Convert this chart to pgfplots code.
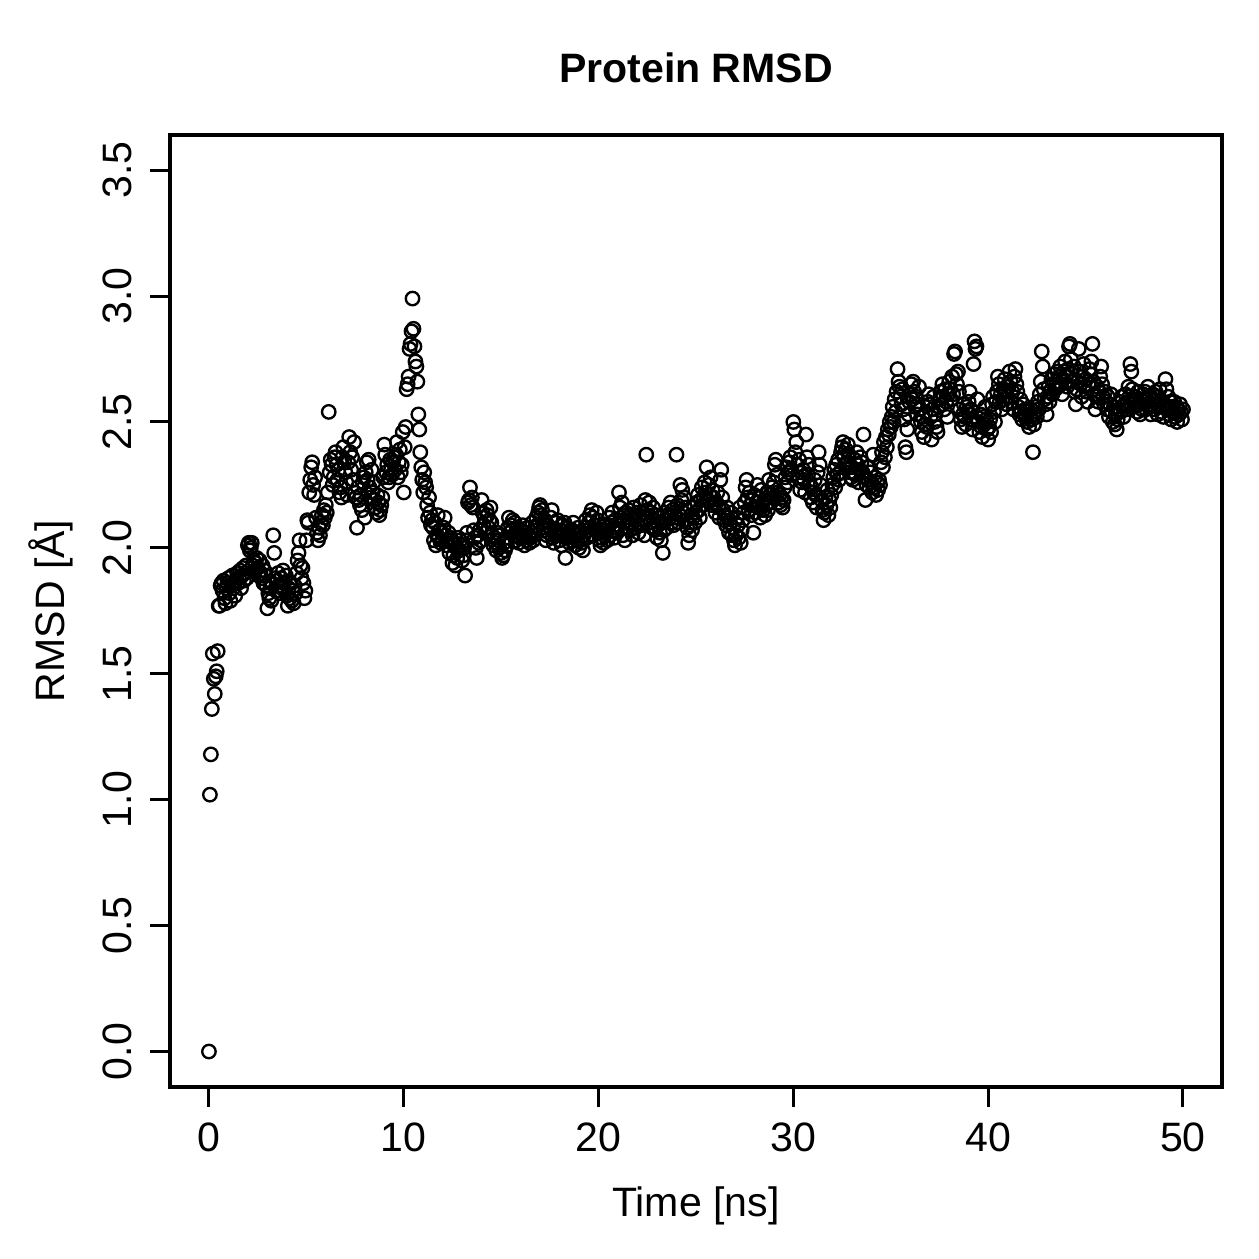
\documentclass[border=0pt]{standalone}
\usepackage{fontspec}
\setmainfont{Liberation Sans}
\usepackage{pgfplots}
\pgfplotsset{compat=1.18}

\begin{document}
\fontsize{16.5}{19.8}\selectfont
\begin{tikzpicture}
\useasboundingbox (-68.3pt,-69.1pt) rectangle (437.6pt,436.7pt);
\begin{axis}[
  at={(0,0)}, anchor=south west,
  scale only axis, width=422.7pt, height=382.5pt,
  xmin=-2, xmax=52, ymin=-0.14, ymax=3.64,
  xtick={0,10,20,30,40,50},
  ytick={0,0.5,1,1.5,2,2.5,3,3.5},
  /pgf/number format/assume math mode=true,
  yticklabel style={/pgf/number format/fixed, /pgf/number format/fixed zerofill,
    /pgf/number format/precision=1, rotate=90, anchor=south, inner sep=0pt},
  xticklabel style={anchor=north, inner sep=0pt},
  xticklabel shift=6.1pt, yticklabel shift=6.9pt,
  tick align=outside, tick pos=left, major tick length=8pt,
  axis line style={line width=1.4pt},
  every tick/.style={black, line width=1.2pt},
  title={\bfseries Protein RMSD},
  title style={at={(axis description cs:0.5,1.0389)}, anchor=base, inner sep=0pt},
  xlabel={Time [ns]},
  xlabel style={at={(axis description cs:0.5,-0.1365)}, anchor=base, inner sep=0pt},
  ylabel={RMSD [Å]},
  ylabel style={at={(axis description cs:-0.0998,0.5)}, rotate=0, anchor=base, inner sep=0pt},
]
\addplot[only marks, mark=o, mark size=2.7pt, mark options={line width=0.95pt, black}] coordinates {
(0.00,0.00) (0.05,1.02) (0.10,1.18) (0.15,1.36) (0.20,1.58) (0.25,1.48) (0.30,1.42) (0.35,1.49) (0.40,1.51) (0.45,1.59)
(0.50,1.77) (0.55,1.77) (0.60,1.85) (0.65,1.86) (0.70,1.83) (0.75,1.87) (0.80,1.80) (0.85,1.78) (0.90,1.84) (0.95,1.86)
(1.00,1.88) (1.05,1.82) (1.10,1.79) (1.15,1.85) (1.20,1.89) (1.25,1.84) (1.30,1.86) (1.35,1.81) (1.40,1.87) (1.45,1.90)
(1.50,1.86) (1.55,1.88) (1.60,1.91) (1.65,1.84) (1.70,1.89) (1.75,1.92) (1.80,1.87) (1.85,1.90) (1.90,1.93) (1.95,1.88)
(2.00,2.01) (2.05,2.02) (2.10,1.99) (2.15,2.00) (2.20,2.02) (2.25,1.93) (2.30,1.95) (2.35,1.91) (2.40,1.94) (2.45,1.96)
(2.50,1.92) (2.55,1.89) (2.60,1.95) (2.65,1.90) (2.70,1.88) (2.75,1.93) (2.80,1.86) (2.85,1.91) (2.90,1.89) (2.95,1.85)
(3.00,1.76) (3.05,1.82) (3.10,1.80) (3.15,1.84) (3.20,1.79) (3.25,1.86) (3.30,2.05) (3.35,1.98) (3.40,1.88) (3.45,1.83)
(3.50,1.87) (3.55,1.90) (3.60,1.85) (3.65,1.82) (3.70,1.88) (3.75,1.84) (3.80,1.91) (3.85,1.86) (3.90,1.83) (3.95,1.89)
(4.00,1.81) (4.05,1.77) (4.10,1.84) (4.15,1.80) (4.20,1.86) (4.25,1.79) (4.30,1.83) (4.35,1.78) (4.40,1.85) (4.45,1.82)
(4.50,1.90) (4.55,1.95) (4.60,1.98) (4.65,2.03) (4.70,1.93) (4.75,1.88) (4.80,1.92) (4.85,1.86) (4.90,1.80) (4.95,1.83)
(5.00,2.03) (5.05,2.11) (5.10,2.10) (5.15,2.22) (5.20,2.27) (5.25,2.32) (5.30,2.34) (5.35,2.25) (5.40,2.21) (5.45,2.28)
(5.50,2.12) (5.55,2.06) (5.60,2.03) (5.65,2.08) (5.70,2.05) (5.75,2.10) (5.80,2.13) (5.85,2.09) (5.90,2.15) (5.95,2.12)
(6.00,2.17) (6.05,2.14) (6.10,2.22) (6.15,2.54) (6.20,2.30) (6.25,2.35) (6.30,2.33) (6.35,2.25) (6.40,2.28) (6.45,2.36)
(6.50,2.38) (6.55,2.33) (6.60,2.27) (6.65,2.31) (6.70,2.22) (6.75,2.24) (6.80,2.20) (6.85,2.36) (6.90,2.40) (6.95,2.34)
(7.00,2.30) (7.05,2.26) (7.10,2.21) (7.15,2.34) (7.20,2.44) (7.25,2.38) (7.30,2.31) (7.35,2.36) (7.40,2.27) (7.45,2.42)
(7.50,2.22) (7.55,2.20) (7.60,2.08) (7.65,2.24) (7.70,2.19) (7.75,2.17) (7.80,2.21) (7.85,2.15) (7.90,2.26) (7.95,2.28)
(8.00,2.12) (8.05,2.30) (8.10,2.34) (8.15,2.27) (8.20,2.35) (8.25,2.24) (8.30,2.20) (8.35,2.31) (8.40,2.22) (8.45,2.26)
(8.50,2.19) (8.55,2.16) (8.60,2.14) (8.65,2.21) (8.70,2.18) (8.75,2.13) (8.80,2.15) (8.85,2.17) (8.90,2.20) (8.95,2.28)
(9.00,2.41) (9.05,2.37) (9.10,2.30) (9.15,2.33) (9.20,2.26) (9.25,2.28) (9.30,2.35) (9.35,2.31) (9.40,2.29) (9.45,2.34)
(9.50,2.36) (9.55,2.31) (9.60,2.37) (9.65,2.42) (9.70,2.28) (9.75,2.34) (9.80,2.39) (9.85,2.30) (9.90,2.33) (9.95,2.46)
(10.00,2.22) (10.05,2.40) (10.10,2.48) (10.15,2.63) (10.20,2.65) (10.25,2.68) (10.30,2.79) (10.35,2.81) (10.40,2.86) (10.45,2.99)
(10.50,2.87) (10.55,2.80) (10.60,2.74) (10.65,2.72) (10.70,2.66) (10.75,2.53) (10.80,2.47) (10.85,2.38) (10.90,2.32) (10.95,2.27)
(11.00,2.22) (11.05,2.30) (11.10,2.26) (11.15,2.24) (11.20,2.17) (11.25,2.12) (11.30,2.20) (11.35,2.14) (11.40,2.09) (11.45,2.11)
(11.50,2.08) (11.55,2.03) (11.60,2.10) (11.65,2.01) (11.70,2.05) (11.75,2.13) (11.80,2.04) (11.85,2.07) (11.90,2.02) (11.95,2.06)
(12.00,2.03) (12.05,2.08) (12.10,2.12) (12.15,2.05) (12.20,2.01) (12.25,2.03) (12.30,2.06) (12.35,1.98) (12.40,2.04) (12.45,2.02)
(12.50,1.94) (12.55,1.97) (12.60,2.02) (12.65,1.93) (12.70,2.00) (12.75,1.96) (12.80,2.04) (12.85,1.99) (12.90,2.03) (12.95,2.01)
(13.00,1.95) (13.05,1.97) (13.10,2.00) (13.15,1.89) (13.20,2.03) (13.25,2.06) (13.30,2.18) (13.35,2.19) (13.40,2.24) (13.45,2.17)
(13.50,2.20) (13.55,2.16) (13.60,2.07) (13.65,2.04) (13.70,2.00) (13.75,1.96) (13.80,2.05) (13.85,2.02) (13.90,2.07) (13.95,2.03)
(14.00,2.19) (14.05,2.14) (14.10,2.09) (14.15,2.12) (14.20,2.06) (14.25,2.15) (14.30,2.13) (14.35,2.08) (14.40,2.11) (14.45,2.16)
(14.50,2.10) (14.55,2.05) (14.60,2.01) (14.65,2.04) (14.70,2.02) (14.75,1.99) (14.80,2.06) (14.85,2.03) (14.90,2.00) (14.95,2.05)
(15.00,1.98) (15.05,1.96) (15.10,1.97) (15.15,2.02) (15.20,1.99) (15.25,2.04) (15.30,2.01) (15.35,2.08) (15.40,2.12) (15.45,2.06)
(15.50,2.09) (15.55,2.07) (15.60,2.11) (15.65,2.05) (15.70,2.10) (15.75,2.03) (15.80,2.08) (15.85,2.06) (15.90,2.02) (15.95,2.04)
(16.00,2.07) (16.05,2.05) (16.10,2.09) (16.15,2.04) (16.20,2.01) (16.25,2.06) (16.30,2.03) (16.35,2.08) (16.40,2.05) (16.45,2.02)
(16.50,2.04) (16.55,2.06) (16.60,2.10) (16.65,2.03) (16.70,2.05) (16.75,2.08) (16.80,2.12) (16.85,2.09) (16.90,2.14) (16.95,2.16)
(17.00,2.17) (17.05,2.13) (17.10,2.15) (17.15,2.10) (17.20,2.07) (17.25,2.11) (17.30,2.03) (17.35,2.05) (17.40,2.09) (17.45,2.06)
(17.50,2.08) (17.55,2.12) (17.60,2.15) (17.65,2.04) (17.70,2.02) (17.75,2.06) (17.80,2.10) (17.85,2.07) (17.90,2.11) (17.95,2.05)
(18.00,2.03) (18.05,2.07) (18.10,2.01) (18.15,2.09) (18.20,2.05) (18.25,2.10) (18.30,1.96) (18.35,2.04) (18.40,2.08) (18.45,2.06)
(18.50,2.02) (18.55,2.05) (18.60,2.03) (18.65,2.07) (18.70,2.10) (18.75,2.04) (18.80,2.01) (18.85,2.06) (18.90,2.03) (18.95,2.08)
(19.00,2.00) (19.05,2.03) (19.10,2.06) (19.15,2.02) (19.20,1.99) (19.25,2.05) (19.30,2.08) (19.35,2.11) (19.40,2.04) (19.45,2.07)
(19.50,2.10) (19.55,2.13) (19.60,2.08) (19.65,2.15) (19.70,2.12) (19.75,2.05) (19.80,2.09) (19.85,2.07) (19.90,2.14) (19.95,2.11)
(20.00,2.06) (20.05,2.03) (20.10,2.01) (20.15,2.04) (20.20,2.07) (20.25,2.02) (20.30,2.05) (20.35,2.09) (20.40,2.06) (20.45,2.03)
(20.50,2.08) (20.55,2.12) (20.60,2.05) (20.65,2.10) (20.70,2.14) (20.75,2.07) (20.80,2.04) (20.85,2.11) (20.90,2.08) (20.95,2.06)
(21.00,2.09) (21.05,2.22) (21.10,2.16) (21.15,2.12) (21.20,2.18) (21.25,2.05) (21.30,2.10) (21.35,2.03) (21.40,2.14) (21.45,2.08)
(21.50,2.11) (21.55,2.15) (21.60,2.07) (21.65,2.13) (21.70,2.09) (21.75,2.05) (21.80,2.16) (21.85,2.12) (21.90,2.08) (21.95,2.14)
(22.00,2.10) (22.05,2.06) (22.10,2.13) (22.15,2.17) (22.20,2.09) (22.25,2.14) (22.30,2.11) (22.35,2.05) (22.40,2.19) (22.45,2.37)
(22.50,2.15) (22.55,2.12) (22.60,2.18) (22.65,2.10) (22.70,2.14) (22.75,2.08) (22.80,2.16) (22.85,2.11) (22.90,2.07) (22.95,2.13)
(23.00,2.04) (23.05,2.09) (23.10,2.12) (23.15,2.06) (23.20,2.03) (23.25,2.10) (23.30,1.98) (23.35,2.07) (23.40,2.14) (23.45,2.11)
(23.50,2.08) (23.55,2.13) (23.60,2.16) (23.65,2.12) (23.70,2.18) (23.75,2.10) (23.80,2.15) (23.85,2.09) (23.90,2.14) (23.95,2.12)
(24.00,2.37) (24.05,2.17) (24.10,2.10) (24.15,2.13) (24.20,2.25) (24.25,2.19) (24.30,2.23) (24.35,2.14) (24.40,2.20) (24.45,2.16)
(24.50,2.11) (24.55,2.08) (24.60,2.02) (24.65,2.05) (24.70,2.09) (24.75,2.13) (24.80,2.07) (24.85,2.12) (24.90,2.16) (24.95,2.10)
(25.00,2.14) (25.05,2.18) (25.10,2.21) (25.15,2.15) (25.20,2.12) (25.25,2.19) (25.30,2.24) (25.35,2.17) (25.40,2.20) (25.45,2.26)
(25.50,2.22) (25.55,2.32) (25.60,2.19) (25.65,2.25) (25.70,2.21) (25.75,2.28) (25.80,2.17) (25.85,2.23) (25.90,2.20) (25.95,2.18)
(26.00,2.14) (26.05,2.18) (26.10,2.22) (26.15,2.16) (26.20,2.12) (26.25,2.27) (26.30,2.31) (26.35,2.20) (26.40,2.15) (26.45,2.11)
(26.50,2.13) (26.55,2.09) (26.60,2.16) (26.65,2.12) (26.70,2.06) (26.75,2.10) (26.80,2.14) (26.85,2.05) (26.90,2.08) (26.95,2.03)
(27.00,2.01) (27.05,2.05) (27.10,2.12) (27.15,2.09) (27.20,2.04) (27.25,2.16) (27.30,2.02) (27.35,2.07) (27.40,2.11) (27.45,2.14)
(27.50,2.18) (27.55,2.24) (27.60,2.27) (27.65,2.20) (27.70,2.15) (27.75,2.22) (27.80,2.17) (27.85,2.13) (27.90,2.19) (27.95,2.06)
(28.00,2.21) (28.05,2.14) (28.10,2.18) (28.15,2.25) (28.20,2.16) (28.25,2.20) (28.30,2.12) (28.35,2.23) (28.40,2.17) (28.45,2.15)
(28.50,2.19) (28.55,2.13) (28.60,2.17) (28.65,2.22) (28.70,2.15) (28.75,2.27) (28.80,2.21) (28.85,2.18) (28.90,2.24) (28.95,2.20)
(29.00,2.26) (29.05,2.33) (29.10,2.35) (29.15,2.29) (29.20,2.22) (29.25,2.18) (29.30,2.21) (29.35,2.17) (29.40,2.20) (29.45,2.16)
(29.50,2.19) (29.55,2.24) (29.60,2.28) (29.65,2.32) (29.70,2.26) (29.75,2.30) (29.80,2.34) (29.85,2.36) (29.90,2.31) (29.95,2.29)
(30.00,2.50) (30.05,2.47) (30.10,2.38) (30.15,2.42) (30.20,2.33) (30.25,2.28) (30.30,2.35) (30.35,2.23) (30.40,2.30) (30.45,2.26)
(30.50,2.31) (30.55,2.27) (30.60,2.22) (30.65,2.45) (30.70,2.36) (30.75,2.29) (30.80,2.33) (30.85,2.25) (30.90,2.20) (30.95,2.24)
(31.00,2.18) (31.05,2.22) (31.10,2.27) (31.15,2.21) (31.20,2.16) (31.25,2.30) (31.30,2.38) (31.35,2.33) (31.40,2.25) (31.45,2.19)
(31.50,2.15) (31.55,2.11) (31.60,2.14) (31.65,2.20) (31.70,2.17) (31.75,2.23) (31.80,2.13) (31.85,2.19) (31.90,2.16) (31.95,2.21)
(32.00,2.25) (32.05,2.28) (32.10,2.31) (32.15,2.24) (32.20,2.33) (32.25,2.29) (32.30,2.35) (32.35,2.27) (32.40,2.30) (32.45,2.38)
(32.50,2.40) (32.55,2.42) (32.60,2.36) (32.65,2.33) (32.70,2.39) (32.75,2.34) (32.80,2.41) (32.85,2.37) (32.90,2.30) (32.95,2.28)
(33.00,2.32) (33.05,2.27) (33.10,2.30) (33.15,2.35) (33.20,2.29) (33.25,2.38) (33.30,2.33) (33.35,2.26) (33.40,2.31) (33.45,2.36)
(33.50,2.34) (33.55,2.30) (33.60,2.45) (33.65,2.28) (33.70,2.19) (33.75,2.25) (33.80,2.32) (33.85,2.27) (33.90,2.24) (33.95,2.30)
(34.00,2.26) (34.05,2.22) (34.10,2.37) (34.15,2.24) (34.20,2.28) (34.25,2.21) (34.30,2.26) (34.35,2.23) (34.40,2.27) (34.45,2.25)
(34.50,2.34) (34.55,2.38) (34.60,2.32) (34.65,2.42) (34.70,2.36) (34.75,2.44) (34.80,2.40) (34.85,2.47) (34.90,2.45) (34.95,2.50)
(35.00,2.48) (35.05,2.52) (35.10,2.56) (35.15,2.50) (35.20,2.59) (35.25,2.54) (35.30,2.62) (35.35,2.71) (35.40,2.66) (35.45,2.64)
(35.50,2.60) (35.55,2.57) (35.60,2.63) (35.65,2.55) (35.70,2.51) (35.75,2.40) (35.80,2.38) (35.85,2.47) (35.90,2.53) (35.95,2.58)
(36.00,2.61) (36.05,2.65) (36.10,2.59) (36.15,2.66) (36.20,2.62) (36.25,2.56) (36.30,2.60) (36.35,2.53) (36.40,2.57) (36.45,2.64)
(36.50,2.55) (36.55,2.50) (36.60,2.46) (36.65,2.52) (36.70,2.44) (36.75,2.49) (36.80,2.54) (36.85,2.48) (36.90,2.58) (36.95,2.61)
(37.00,2.57) (37.05,2.52) (37.10,2.43) (37.15,2.55) (37.20,2.60) (37.25,2.50) (37.30,2.53) (37.35,2.48) (37.40,2.46) (37.45,2.56)
(37.50,2.59) (37.55,2.62) (37.60,2.57) (37.65,2.65) (37.70,2.60) (37.75,2.55) (37.80,2.63) (37.85,2.58) (37.90,2.52) (37.95,2.61)
(38.00,2.66) (38.05,2.63) (38.10,2.59) (38.15,2.68) (38.20,2.61) (38.25,2.77) (38.30,2.78) (38.35,2.69) (38.40,2.65) (38.45,2.70)
(38.50,2.62) (38.55,2.55) (38.60,2.51) (38.65,2.48) (38.70,2.53) (38.75,2.57) (38.80,2.52) (38.85,2.49) (38.90,2.56) (38.95,2.54)
(39.00,2.58) (39.05,2.62) (39.10,2.55) (39.15,2.51) (39.20,2.47) (39.25,2.73) (39.30,2.82) (39.35,2.79) (39.40,2.80) (39.45,2.59)
(39.50,2.50) (39.55,2.46) (39.60,2.53) (39.65,2.48) (39.70,2.44) (39.75,2.52) (39.80,2.49) (39.85,2.56) (39.90,2.51) (39.95,2.47)
(40.00,2.43) (40.05,2.48) (40.10,2.51) (40.15,2.46) (40.20,2.57) (40.25,2.60) (40.30,2.54) (40.35,2.50) (40.40,2.58) (40.45,2.62)
(40.50,2.68) (40.55,2.65) (40.60,2.58) (40.65,2.61) (40.70,2.55) (40.75,2.59) (40.80,2.63) (40.85,2.67) (40.90,2.62) (40.95,2.57)
(41.00,2.60) (41.05,2.64) (41.10,2.70) (41.15,2.66) (41.20,2.58) (41.25,2.62) (41.30,2.55) (41.35,2.68) (41.40,2.71) (41.45,2.65)
(41.50,2.62) (41.55,2.56) (41.60,2.53) (41.65,2.59) (41.70,2.54) (41.75,2.51) (41.80,2.57) (41.85,2.53) (41.90,2.55) (41.95,2.52)
(42.00,2.50) (42.05,2.54) (42.10,2.48) (42.15,2.52) (42.20,2.55) (42.25,2.51) (42.30,2.38) (42.35,2.49) (42.40,2.53) (42.45,2.56)
(42.50,2.52) (42.55,2.58) (42.60,2.55) (42.65,2.61) (42.70,2.66) (42.75,2.78) (42.80,2.72) (42.85,2.63) (42.90,2.59) (42.95,2.57)
(43.00,2.53) (43.05,2.60) (43.10,2.64) (43.15,2.58) (43.20,2.62) (43.25,2.67) (43.30,2.61) (43.35,2.65) (43.40,2.69) (43.45,2.63)
(43.50,2.66) (43.55,2.70) (43.60,2.64) (43.65,2.68) (43.70,2.72) (43.75,2.65) (43.80,2.61) (43.85,2.67) (43.90,2.70) (43.95,2.74)
(44.00,2.68) (44.05,2.64) (44.10,2.71) (44.15,2.80) (44.20,2.81) (44.25,2.75) (44.30,2.69) (44.35,2.66) (44.40,2.72) (44.45,2.62)
(44.50,2.57) (44.55,2.63) (44.60,2.66) (44.65,2.79) (44.70,2.70) (44.75,2.65) (44.80,2.60) (44.85,2.68) (44.90,2.73) (44.95,2.64)
(45.00,2.67) (45.05,2.62) (45.10,2.58) (45.15,2.65) (45.20,2.71) (45.25,2.69) (45.30,2.74) (45.35,2.81) (45.40,2.66) (45.45,2.61)
(45.50,2.55) (45.55,2.60) (45.60,2.64) (45.65,2.58) (45.70,2.62) (45.75,2.68) (45.80,2.72) (45.85,2.65) (45.90,2.60) (45.95,2.57)
(46.00,2.62) (46.05,2.58) (46.10,2.55) (46.15,2.60) (46.20,2.52) (46.25,2.57) (46.30,2.61) (46.35,2.54) (46.40,2.50) (46.45,2.56)
(46.50,2.49) (46.55,2.53) (46.60,2.47) (46.65,2.51) (46.70,2.55) (46.75,2.58) (46.80,2.54) (46.85,2.60) (46.90,2.56) (46.95,2.52)
(47.00,2.57) (47.05,2.61) (47.10,2.55) (47.15,2.58) (47.20,2.64) (47.25,2.60) (47.30,2.73) (47.35,2.70) (47.40,2.63) (47.45,2.59)
(47.50,2.56) (47.55,2.60) (47.60,2.58) (47.65,2.54) (47.70,2.62) (47.75,2.57) (47.80,2.53) (47.85,2.59) (47.90,2.55) (47.95,2.61)
(48.00,2.58) (48.05,2.62) (48.10,2.55) (48.15,2.59) (48.20,2.64) (48.25,2.60) (48.30,2.56) (48.35,2.53) (48.40,2.57) (48.45,2.61)
(48.50,2.59) (48.55,2.55) (48.60,2.62) (48.65,2.57) (48.70,2.53) (48.75,2.60) (48.80,2.63) (48.85,2.58) (48.90,2.54) (48.95,2.56)
(49.00,2.52) (49.05,2.57) (49.10,2.67) (49.15,2.63) (49.20,2.55) (49.25,2.60) (49.30,2.53) (49.35,2.58) (49.40,2.51) (49.45,2.56)
(49.50,2.54) (49.55,2.58) (49.60,2.52) (49.65,2.56) (49.70,2.50) (49.75,2.55) (49.80,2.53) (49.85,2.57) (49.90,2.54) (49.95,2.51)
(50.00,2.55)
};
\end{axis}
\end{tikzpicture}
\end{document}
